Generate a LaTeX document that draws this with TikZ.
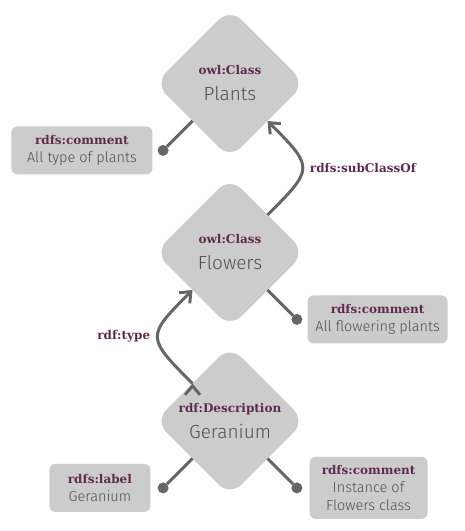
\documentclass[tikz,border=0pt]{standalone}
\usepackage{fontspec}
\usepackage{tikz}
\usetikzlibrary{positioning, arrows.meta, shapes.geometric}
\newfontfamily\bodyfont{Fira Sans Light}
\newfontfamily\termfont{DejaVu Serif}
\definecolor{shapegray}{HTML}{CCCCCC}
\definecolor{linkgray}{HTML}{666666}
\definecolor{termpurple}{HTML}{5E2B4E}
\definecolor{textgray}{HTML}{4D524D}
\newcommand{\rdfterm}[1]{{\termfont\bfseries\fontsize{12}{14}\selectfont\color{termpurple}#1}}
\tikzset{
    >={Straight Barb[length=9pt, width=15pt]}, % barbed arrow heads
    class/.style={diamond, aspect=1, minimum size=150pt, inner sep=0pt, outer sep=0pt,
        rounded corners=16pt, fill=shapegray, align=center, text=textgray,
        font=\bodyfont\fontsize{19}{26}\selectfont}, % the rdf resources
    note/.style={rectangle, rounded corners=6pt, fill=shapegray, align=center, text=textgray,
        minimum height=48pt, inner sep=4pt, font=\bodyfont\fontsize{14.5}{18}\selectfont}, % the literals
    link/.style={draw=linkgray, line width=3pt},
    dot/.style={circle, fill=linkgray, minimum size=11pt, inner sep=0pt, outer sep=0pt},
}

\begin{document}
\begin{tikzpicture}[x=1pt, y=1pt]
        \useasboundingbox (0,0) rectangle (464,531);
        \node[class] (plants) at (230,447.5) {\rdfterm{owl:Class}\\Plants};
        \node[class, below=19pt of plants] (flowers) {\rdfterm{owl:Class}\\Flowers};
        \node[class, below=18.5pt of flowers] (geranium) {\rdfterm{rdf:Description}\\Geranium};
        % literal values hang off the sides
        \node[dot, below left=25.5pt and 25.5pt of plants.south west] (plantsdot) {};
        \node[dot, below right=25.5pt and 25.5pt of flowers.south east] (flowersdot) {};
        \node[dot, below left=25.5pt and 25.5pt of geranium.south west] (labeldot) {};
        \node[dot, below right=25.5pt and 25.5pt of geranium.south east] (geraniumdot) {};
        \node[note, minimum width=141pt, left=5pt of plantsdot] (plantsnote) {\rdfterm{rdfs:comment}\\All type of plants};
        \node[note, minimum width=140pt, right=5pt of flowersdot] (flowersnote) {\rdfterm{rdfs:comment}\\All flowering plants};
        \node[note, minimum width=101pt, left=7pt of labeldot] (geraniumlabel) {\rdfterm{rdfs:label}\\Geranium};
        \node[note, minimum width=118pt, minimum height=62pt, right=7pt of geraniumdot] (geraniumnote) {\rdfterm{rdfs:comment}\\Instance of\\Flowers class};
        \draw[link] (plants.south west) -- (plantsdot)
        (flowers.south east) -- (flowersdot)
        (geranium.south west) -- (labeldot)
        (geranium.south east) -- (geraniumdot);
        \draw[link, ->] (flowers.north east) edge[out=45, in=-45, looseness=1.8] node[right, inner sep=6pt]{\rdfterm{rdfs:subClassOf}} (plants.south east)
        (geranium.north west) edge[out=135, in=225, looseness=1.8] node[left, inner sep=6pt]{\rdfterm{rdf:type}} (flowers.south west);
    \end{tikzpicture}
\end{document}
